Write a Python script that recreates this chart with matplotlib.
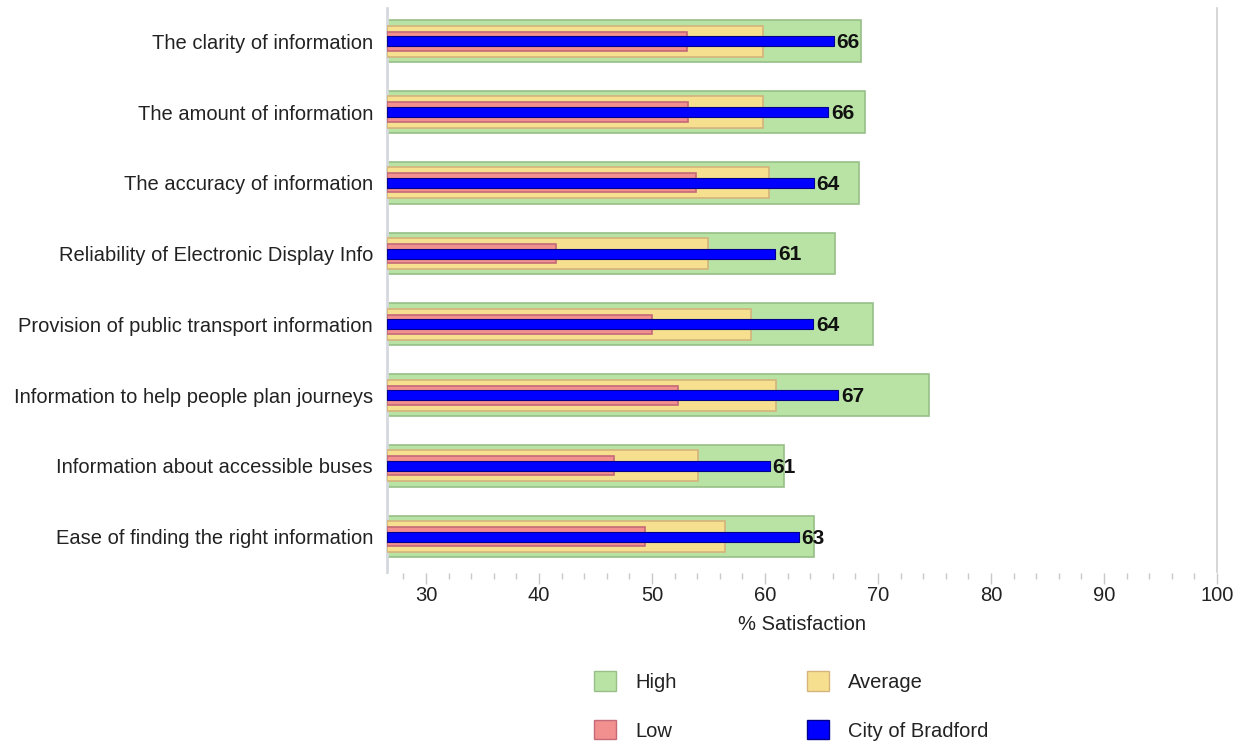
import matplotlib
matplotlib.use("Agg")
import matplotlib.pyplot as plt
from matplotlib.patches import Patch
from matplotlib.ticker import MultipleLocator

plt.rcParams['font.family'] = ['Liberation Sans', 'DejaVu Sans']

categories = [
    "The clarity of information",
    "The amount of information",
    "The accuracy of information",
    "Reliability of Electronic Display Info",
    "Provision of public transport information",
    "Information to help people plan journeys",
    "Information about accessible buses",
    "Ease of finding the right information",
]
high = [68.5, 68.85, 68.3, 66.2, 69.6, 74.5, 61.7, 64.3]
average = [59.8, 59.8, 60.35, 55.0, 58.8, 61.0, 54.1, 56.5]
low = [53.1, 53.2, 53.9, 41.5, 50.0, 52.3, 46.6, 49.4]
bradford = [66.1, 65.6, 64.3, 60.9, 64.25, 66.5, 60.4, 63.0]
labels = ["66", "66", "64", "61", "64", "67", "61", "63"]

XMIN = 26.55
FS = 14.5

fig = plt.figure(figsize=(12.42, 7.47), dpi=100)
ax = fig.add_axes([387/1242, 1-572/747, (1217-387)/1242, (572-8)/747])

y = list(range(len(categories)))
ax.barh(y, [h - XMIN for h in high], left=XMIN, height=0.59,
        color="#b9e3a5", edgecolor="#97bf87", linewidth=1.2, zorder=2)
ax.barh(y, [a - XMIN for a in average], left=XMIN, height=0.44,
        color="#f6e08f", edgecolor="#d4b47c", linewidth=1.2, zorder=3)
ax.barh(y, [l - XMIN for l in low], left=XMIN, height=0.27,
        color="#f28f8f", edgecolor="#c46a78", linewidth=1.2, zorder=4)
ax.barh(y, [b - XMIN for b in bradford], left=XMIN, height=0.14,
        color="#0000ff", edgecolor="#00008b", linewidth=0.8, zorder=5)

for yi, b, lab in zip(y, bradford, labels):
    ax.text(b + 0.25, yi + 0.02, lab, va="center", ha="left", fontsize=15,
            fontweight="bold", color="#111111", zorder=6)

ax.set_xlim(XMIN, 100)
ax.set_ylim(7.5, -0.47)
ax.set_yticks(y)
ax.set_yticklabels(categories, fontsize=FS, color="#222222")
ax.tick_params(axis="y", length=0, pad=10)

ax.xaxis.set_major_locator(MultipleLocator(10))
ax.xaxis.set_minor_locator(MultipleLocator(2))
ax.tick_params(axis="x", which="major", length=8, width=1, color="#c8c8c8",
               labelsize=FS, labelcolor="#222222", pad=1, direction="out")
ax.tick_params(axis="x", which="minor", length=4, width=1, color="#c8c8c8",
               direction="out")
ax.set_xlabel("% Satisfaction", fontsize=FS, color="#222222", labelpad=7)

for s in ["top", "bottom"]:
    ax.spines[s].set_visible(False)
ax.spines["left"].set_color("#d5d9df")
ax.spines["left"].set_linewidth(2)
ax.spines["right"].set_color("#d0d0d0")
ax.spines["right"].set_linewidth(1.2)
ax.spines["bottom"].set_position(("outward", 1))

handles = [
    Patch(facecolor="#b9e3a5", edgecolor="#97bf87", label="High"),
    Patch(facecolor="#f28f8f", edgecolor="#c46a78", label="Low"),
    Patch(facecolor="#f6e08f", edgecolor="#d4b47c", label="Average"),
    Patch(facecolor="#0000ff", edgecolor="#00008b", label="City of Bradford"),
]
fig.legend(handles=handles, ncol=2, loc="center", bbox_to_anchor=(0.637, 0.055),
           frameon=False, fontsize=FS, handlelength=1.1, handleheight=1.1,
           handletextpad=0.95, columnspacing=6.45, labelspacing=1.4,
           labelcolor="#222222", borderpad=0.2)

fig.savefig("out.png", dpi=100)
